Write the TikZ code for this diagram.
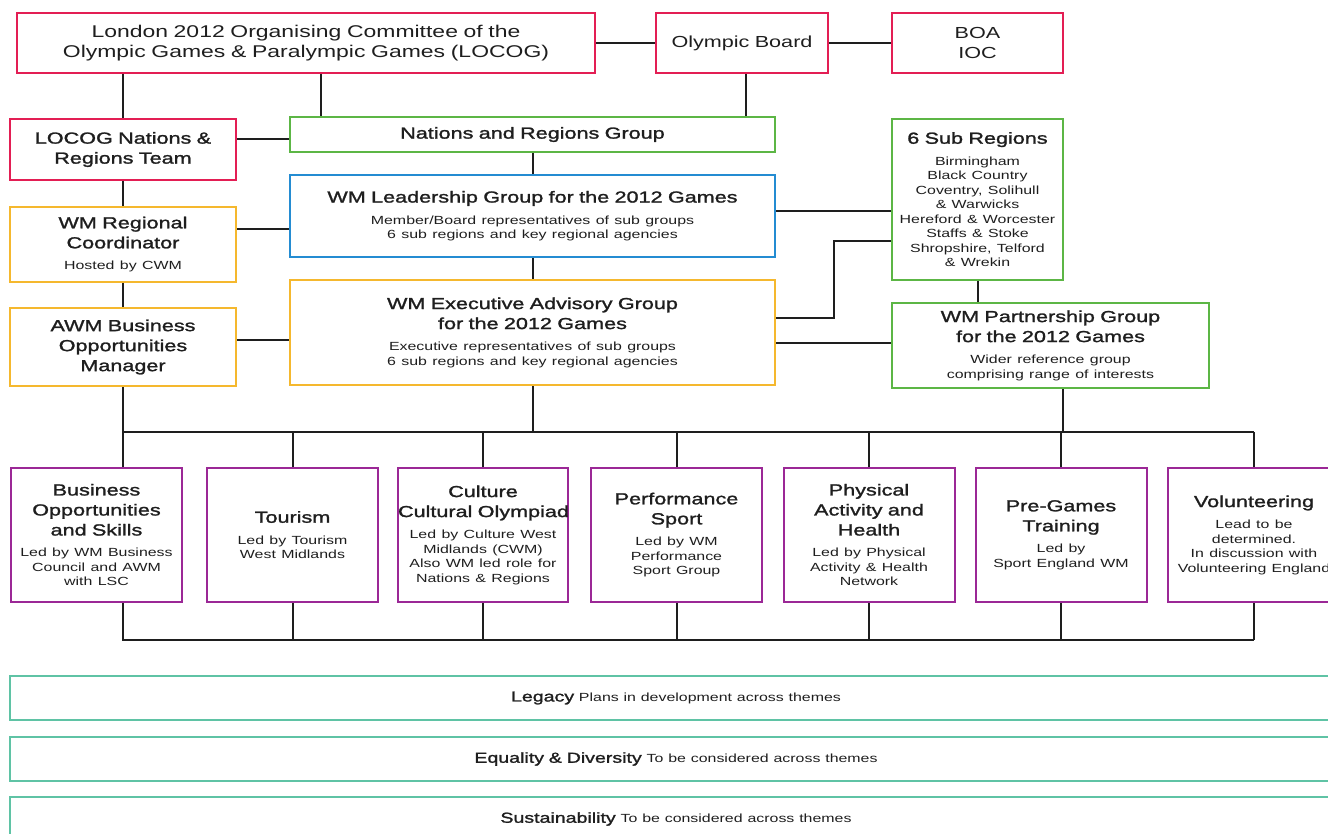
\documentclass[tikz,border=0pt]{standalone}
\usepackage{fontspec}
\setmainfont{Liberation Sans}[FakeStretch=1.35]
\newfontfamily\ttlfam{Liberation Sans}[FakeStretch=1.35, FakeBold=1.5]
\definecolor{ink}{RGB}{30,30,30}
\definecolor{locogred}{RGB}{227,30,84}
\definecolor{grpgreen}{RGB}{92,182,69}
\definecolor{leadblue}{RGB}{36,140,210}
\definecolor{wmorange}{RGB}{245,184,46}
\definecolor{themepurple}{RGB}{155,40,150}
\definecolor{crossteal}{RGB}{95,195,165}
\newcommand\ttlfont{\ttlfam\fontsize{16}{20}\selectfont}
\newcommand\smlfont{\normalfont\fontsize{11.8}{14.5}\selectfont}
\newcommand\subline[1]{\par\vskip7pt{\smlfont #1\par}}
\setlength\parindent{0pt}
\setlength\parskip{0pt}
\hyphenpenalty=10000
\hbadness=10000
\hfuzz=30pt
\begin{document}
\begin{tikzpicture}[x=1pt,y=-1pt,
	box/.style={draw=#1, line width=2pt, inner sep=0pt, align=center, font=\ttlfont, text=ink},
	dims/.style 2 args={minimum width=#1, text width=#1, minimum height=#2},
	link/.style={line width=2pt, draw=ink}]
	\useasboundingbox (0,0) rectangle (1328,834);
	\clip (0,0) rectangle (1328,834);
	% top row
	\node[box=locogred, dims={578pt}{60pt}, font=\normalfont\fontsize{17}{20}\selectfont] (locog) at (306,43) {London 2012 Organising Committee of the\\Olympic Games \& Paralympic Games (LOCOG)\par};
	\node[box=locogred, dims={172pt}{60pt}, font=\normalfont\fontsize{16}{20}\selectfont] (oboard) at (742,43) {Olympic Board\par};
	\node[box=locogred, dims={171pt}{60pt}, font=\normalfont\fontsize{16}{20}\selectfont] (boa) at (977.5,43) {BOA\\IOC\par};
	% left column
	\node[box=locogred, dims={226pt}{61pt}] (nrteam) at (123,149.5) {LOCOG Nations \&\\Regions Team\par};
	\node[box=wmorange, dims={226pt}{75pt}] (coord) at (123,244.5) {WM Regional\\Coordinator\subline{Hosted by CWM}};
	\node[box=wmorange, dims={226pt}{78pt}] (awm) at (123,347) {AWM Business\\Opportunities\\Manager\par};
	% middle column
	\node[box=grpgreen, dims={485pt}{35pt}] (nrgroup) at (532.5,134.5) {Nations and Regions Group\par};
	\node[box=leadblue, dims={485pt}{82pt}] (lead) at (532.5,216) {WM Leadership Group for the 2012 Games\subline{Member/Board representatives of sub groups\\6 sub regions and key regional agencies}};
	\node[box=wmorange, dims={485pt}{105pt}] (exec) at (532.5,332.5) {WM Executive Advisory Group\\for the 2012 Games\subline{Executive representatives of sub groups\\6 sub regions and key regional agencies}};
	% right column
	\node[box=grpgreen, dims={171pt}{161pt}] (subreg) at (977.5,199.5) {6 Sub Regions\subline{Birmingham\\Black Country\\Coventry, Solihull\\\& Warwicks\\Hereford \& Worcester\\Staffs \& Stoke\\Shropshire, Telford\\\& Wrekin}};
	\node[box=grpgreen, dims={317pt}{85pt}] (partner) at (1050.5,345.5) {WM Partnership Group\\for the 2012 Games\subline{Wider reference group\\comprising range of interests}};
	% themes
	\node[box=themepurple, dims={171pt}{134pt}] (t1) at (96.5,535) {Business\\Opportunities\\and Skills\subline{Led by WM Business\\Council and AWM\\with LSC}};
	\node[box=themepurple, dims={171pt}{134pt}] (t2) at (292.5,535) {Tourism\subline{Led by Tourism\\West Midlands}};
	\node[box=themepurple, dims={170pt}{134pt}] (t3) at (483,535) {Culture\\Cultural~Olympiad\subline{Led by Culture West\\Midlands (CWM)\\Also WM led role for\\Nations \& Regions}};
	\node[box=themepurple, dims={171pt}{134pt}] (t4) at (676.5,535) {Performance\\Sport\subline{Led by WM\\Performance\\Sport Group}};
	\node[box=themepurple, dims={171pt}{134pt}] (t5) at (869,535) {Physical\\Activity and\\Health\subline{Led by Physical\\Activity \& Health\\Network}};
	\node[box=themepurple, dims={171pt}{134pt}] (t6) at (1061,535) {Pre-Games\\Training\subline{Led by\\Sport England WM}};
	\node[box=themepurple, dims={172pt}{134pt}] (t7) at (1254,535) {Volunteering\subline{Lead to be\\determined.\\In discussion with\\Volunteering England}};
	% cross-cutting bars
	\node[box=crossteal, dims={1332pt}{44pt}, font=\ttlfam\fontsize{14.5}{17}\selectfont] (legacy) at (676,698) {Legacy {\smlfont Plans in development across themes}\par};
	\node[box=crossteal, dims={1332pt}{44pt}, font=\ttlfam\fontsize{14.5}{17}\selectfont] (equality) at (676,759) {Equality \& Diversity {\smlfont To be considered across themes}\par};
	\node[box=crossteal, dims={1332pt}{44pt}, font=\ttlfam\fontsize{14.5}{17}\selectfont] (sustain) at (676,819) {Sustainability {\smlfont To be considered across themes}\par};
	% connectors
	\coordinate (bus) at (0,432);
	\coordinate (base) at (0,640);
	\draw[link] (locog) -- (oboard) -- (boa);
	\draw[link] (locog.south -| nrteam.north) -- (nrteam.north);
	\draw[link] ([xshift=15pt]locog.south) -- ([xshift=15pt]locog.south |- nrgroup.north);
	\draw[link] ([xshift=4pt]oboard.south) -- ([xshift=4pt]oboard.south |- nrgroup.north);
	\draw[link] ([yshift=10pt]nrteam.east) -- ([yshift=10pt]nrteam.east -| nrgroup.west);
	\draw[link] (nrteam) -- (coord);
	\draw[link] (nrgroup) -- (lead);
	\draw[link] ([yshift=15pt]coord.east) -- ([yshift=15pt]coord.east -| lead.west);
	\draw[link] (coord) -- (awm);
	\draw[link] (lead) -- (exec);
	\draw[link] ([yshift=7pt]awm.east) -- ([yshift=7pt]awm.east -| exec.west);
	\draw[link] ([yshift=5pt]lead.east) -- ([yshift=5pt]lead.east -| subreg.west);
	\draw[link] ([yshift=14pt]exec.east) -- ++(58,0) |- ([yshift=-42pt]subreg.west);
	\draw[link] ([yshift=-10pt]exec.east) -- ([yshift=-10pt]exec.east -| partner.west);
	\draw[link] (subreg.south) -- (subreg.south |- partner.north);
	% upper bus
	\draw[link] (awm.south) -- (awm.south |- bus) -- (t7.north |- bus);
	\draw[link] (exec.south) -- (exec.south |- bus);
	\draw[link] ([xshift=12pt]partner.south) -- ([xshift=12pt]partner.south |- bus);
	\draw[link] (awm.south |- bus) -- (awm.south |- t1.north)
		(t2.north) -- (t2.north |- bus)
		(t3.north) -- (t3.north |- bus)
		(t4.north) -- (t4.north |- bus)
		(t5.north) -- (t5.north |- bus)
		(t6.north) -- (t6.north |- bus)
		(t7.north) -- (t7.north |- bus);
	% lower bus
	\draw[link] (awm.south |- t1.south) -- (awm.south |- base) -- (t7.south |- base)
		(t2.south) -- (t2.south |- base)
		(t3.south) -- (t3.south |- base)
		(t4.south) -- (t4.south |- base)
		(t5.south) -- (t5.south |- base)
		(t6.south) -- (t6.south |- base)
		(t7.south) -- (t7.south |- base);
\end{tikzpicture}
\end{document}
